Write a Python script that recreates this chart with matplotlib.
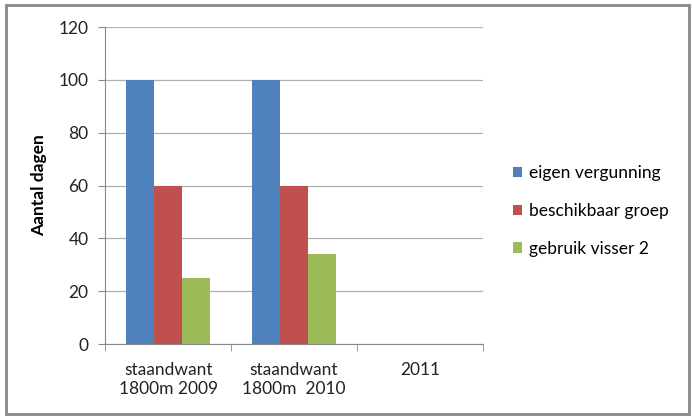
import matplotlib.pyplot as plt
import numpy as np
from matplotlib.patches import Rectangle

plt.rcParams['font.family'] = ['Lato', 'DejaVu Sans']

categories = ['staandwant\n1800m 2009', 'staandwant\n1800m  2010', '2011']
series_names = ['eigen vergunning', 'beschikbaar groep', 'gebruik visser 2']
eigen = [100, 100, 0]
beschikbaar = [60, 60, 0]
gebruik = [25, 34, 0]
colors = ['#4f81bd', '#c0504d', '#9bbb59']

fig = plt.figure(figsize=(6.92, 4.16), dpi=100)
ax = fig.add_axes([0.152, 0.173, 0.546, 0.762])

x = np.arange(len(categories))
w = 1 / 4.5
for i, (vals, name, c) in enumerate(zip([eigen, beschikbaar, gebruik], series_names, colors)):
    ax.bar(x + (i - 1) * w, vals, width=w, color=c, label=name, zorder=3)

ax.set_xlim(-0.5, len(categories) - 0.5)
ax.set_ylim(0, 120)
ax.set_yticks(range(0, 121, 20))
ax.yaxis.grid(True, color='#b0b0b0', linewidth=0.9, zorder=0)
ax.set_xticks(x)
ax.set_xticklabels(categories, fontsize=12.5, color='#222222', linespacing=1.25)
ax.set_xticks(np.arange(-0.5, len(categories), 1), minor=True)
ax.tick_params(axis='x', which='major', length=0, pad=13)
ax.tick_params(axis='x', which='minor', length=5, color='#888888')
ax.tick_params(axis='y', length=5, color='#888888', labelsize=12.5, labelcolor='#222222', pad=7)
for s in ['top', 'right']:
    ax.spines[s].set_visible(False)
for s in ['left', 'bottom']:
    ax.spines[s].set_color('#888888')
ax.set_ylabel('Aantal dagen', fontsize=12.5, fontweight='bold', labelpad=8)

ax.legend(loc='center left', bbox_to_anchor=(497 / 692, 1 - 211 / 416), bbox_transform=fig.transFigure,
          frameon=False, fontsize=12.5, handlelength=0.55, handleheight=0.55, handletextpad=0.4,
          labelspacing=1.25)

fig.patches.append(Rectangle((6 / 692, 2 / 416), 683 / 692, 409 / 416, transform=fig.transFigure,
                             fill=False, edgecolor='#888888', linewidth=2))

fig.savefig('out.png', dpi=100)
